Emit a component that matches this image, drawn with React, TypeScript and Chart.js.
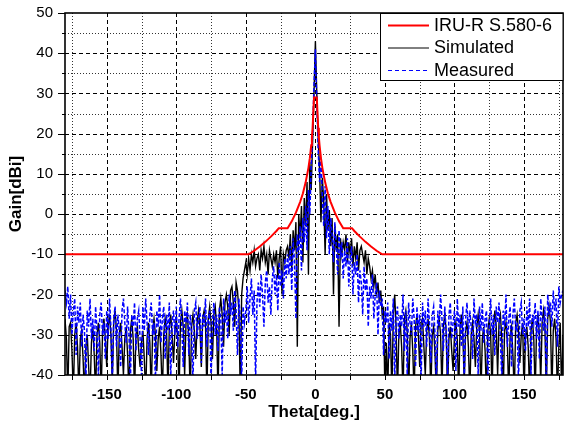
import React, { useEffect, useRef } from 'react';
import { Chart, registerables } from 'chart.js';

Chart.register(...registerables);

const FONT = '"Liberation Sans", Arial, Helvetica, sans-serif';

// Sample grid of the measured / simulated patterns (degrees)
const thetaStart = -180;
const thetaEnd = 178;
const thetaStep = 1;

// Simulated gain [dBi], one value per degree from -180 to 178
const simulated = [
  // -180 .. -51
  -26, -31, -45, -28, -27, -34, -45, -30, -27, -33,
  -45, -31, -29, -36, -45, -33, -30, -38, -45, -32,
  -28, -35, -45, -30, -27, -32, -45, -29, -26, -31,
  -38, -28, -25, -30, -42, -27, -24, -29, -45, -30,
  -27, -33, -40, -31, -28, -35, -45, -29, -26, -31,
  -45, -30, -28, -34, -38, -32, -29, -36, -45, -31,
  -27, -32, -45, -29, -26, -30, -39, -31, -28, -35,
  -45, -30, -26, -29, -44, -28, -25, -30, -37, -29,
  -26, -31, -45, -27, -24, -28, -40, -27, -25, -31,
  -45, -28, -25, -29, -36, -27, -24, -28, -38, -26,
  -24, -27, -45, -26, -23, -27, -36, -25, -23, -28,
  -45, -24, -21, -25, -33, -22, -20, -23, -30, -19,
  -18, -22, -28, -17, -19, -24, -45, -20, -16, -14,
  // -50 .. -21
  -12, -15, -11, -14, -10, -12, -9, -13, -11, -10,
  -14, -9, -11, -8, -12, -10, -15, -9, -11, -13,
  -10, -12, -9, -16, -11, -8, -20, -10, -12, -9,
  // -20 .. -1
  -8, -11, -5, -14, -4, -9, -2, -33, 0, -6,
  2, -12, 4, -3, 8, -15, 13, 6, 18, 30,
  // 0
  43,
  // 1 .. 20
  30, 19, 11, -2, 9, 3, -10, 5, -4, 1,
  -8, -1, -20, -3, -9, -5, -28, -6, -10, -7,
  // 21 .. 50
  -9, -5, -12, -7, -10, -6, -13, -8, -11, -7,
  -14, -9, -8, -10, -12, -9, -15, -11, -13, -16,
  -14, -18, -15, -20, -17, -22, -19, -25, -23, -45,
  // 51 .. 178
  -32, -45, -27, -30, -45, -25, -20, -28, -45, -30,
  -27, -33, -45, -26, -24, -29, -45, -31, -27, -34,
  -45, -28, -25, -30, -38, -27, -26, -33, -40, -29,
  -26, -31, -45, -30, -28, -35, -45, -29, -26, -30,
  -44, -28, -25, -29, -45, -31, -28, -34, -39, -30,
  -27, -31, -45, -28, -25, -30, -42, -29, -27, -33,
  -45, -30, -27, -31, -38, -28, -25, -29, -45, -31,
  -28, -34, -45, -29, -26, -30, -45, -28, -24, -28,
  -40, -27, -25, -31, -45, -29, -27, -32, -45, -30,
  -28, -35, -45, -27, -25, -29, -37, -30, -27, -45,
  -31, -28, -33, -45, -29, -26, -31, -45, -28, -25,
  -30, -42, -27, -24, -28, -45, -26, -23, -27, -45,
  -29, -26, -31, -45, -33, -27, -45, -30,
];

// Measured gain [dBi], one value per degree from -180 to 178
const measured = [
  // -180 .. -51
  -19, -22, -18, -26, -20, -30, -24, -21, -35, -23,
  -27, -22, -33, -25, -29, -42, -24, -28, -21, -31,
  -26, -34, -23, -29, -40, -25, -22, -30, -27, -36,
  -24, -31, -21, -28, -42, -26, -23, -33, -25, -29,
  -38, -24, -21, -27, -32, -23, -30, -42, -25, -28,
  -22, -34, -26, -24, -31, -40, -23, -29, -21, -27,
  -35, -25, -22, -30, -27, -42, -24, -28, -20, -32,
  -26, -23, -36, -25, -29, -22, -41, -27, -24, -30,
  -23, -33, -26, -21, -28, -38, -24, -27, -22, -35,
  -25, -29, -42, -24, -22, -31, -26, -23, -37, -25,
  -28, -21, -33, -26, -24, -42, -27, -22, -30, -25,
  -34, -23, -26, -40, -21, -27, -24, -31, -20, -25,
  -22, -29, -19, -24, -35, -21, -26, -42, -23, -27,
  // -50 .. -21
  -24, -18, -27, -21, -16, -25, -19, -42, -22, -17,
  -23, -15, -20, -28, -17, -14, -22, -18, -25, -16,
  -13, -20, -15, -24, -12, -18, -14, -21, -11, -16,
  // -20 .. -1
  -10, -15, -8, -19, -6, -12, -26, -5, -10, -3,
  -14, -1, -7, 2, -9, 6, 0, 12, 20, 32,
  // 0
  41,
  // 1 .. 20
  28, 16, 8, 14, 4, -3, 7, -6, 2, -10,
  -1, -5, -12, -2, -8, -15, -4, -11, -7, -16,
  // 21 .. 50
  -9, -13, -6, -18, -11, -8, -20, -12, -15, -10,
  -22, -14, -17, -25, -13, -19, -16, -28, -18, -21,
  -15, -26, -20, -17, -30, -19, -23, -21, -35, -24,
  // 51 .. 178
  -27, -22, -36, -24, -29, -21, -42, -26, -23, -31,
  -25, -28, -20, -34, -24, -40, -22, -27, -30, -21,
  -26, -38, -23, -29, -25, -42, -22, -28, -24, -33,
  -21, -27, -37, -25, -23, -30, -42, -24, -28, -20,
  -26, -34, -23, -29, -41, -25, -22, -31, -27, -24,
  -39, -21, -28, -25, -33, -23, -42, -26, -22, -30,
  -24, -28, -36, -21, -27, -25, -40, -23, -29, -22,
  -32, -26, -24, -42, -28, -21, -30, -25, -35, -23,
  -27, -22, -31, -41, -24, -28, -20, -33, -26, -23,
  -38, -25, -21, -29, -27, -42, -24, -22, -30, -26,
  -34, -23, -28, -21, -40, -25, -27, -22, -31, -24,
  -36, -21, -26, -29, -23, -42, -20, -25, -22, -28,
  -19, -24, -21, -33, -18, -22, -20, -19,
];

// ITU-R S.580-6 envelope
const maskTheta = [
  -180, -48, -44, -40, -36, -32, -28, -26.3, -20, -17, -14, -11, -9, -7, -5, -4, -3, -2.5, -2, -1,
  1, 2, 2.5, 3, 4, 5, 7, 9, 11, 14, 17, 20, 26.3, 28, 32, 36, 40, 44, 48, 178,
];
const maskGain = [
  -10, -10, -9.1, -8.05, -6.9, -5.6, -4.2, -3.5, -3.5, -1.8, 0.35, 3.0, 5.1, 7.9, 11.5, 13.9, 17.1, 19.1, 21.5, 29,
  29, 21.5, 19.1, 17.1, 13.9, 11.5, 7.9, 5.1, 3.0, 0.35, -1.8, -3.5, -3.5, -4.2, -5.6, -6.9, -8.05, -9.1, -10, -10,
];

const xTickValues = [-150, -100, -50, 0, 50, 100, 150];
const yTickValues = [-40, -30, -20, -10, 0, 10, 20, 30, 40, 50];
const xGridValues = [-175, -150, -125, -100, -75, -50, -25, 0, 25, 50, 75, 100, 125, 150, 175];
const yGridValues = [-35, -30, -25, -20, -15, -10, -5, 0, 5, 10, 15, 20, 25, 30, 35, 40, 45];
const yMinorTickValues = [-40, -35, -30, -25, -20, -15, -10, -5, 0, 5, 10, 15, 20, 25, 30, 35, 40, 45, 50];

const seriesNames = ['IRU-R S.580-6', 'Simulated', 'Measured'];
const seriesColors = ['#ff0000', '#000000', '#0000ff'];

const theta: number[] = [];
for (let t = thetaStart; t <= thetaEnd; t += thetaStep) theta.push(t);

const framePlugin = {
  id: 'frameAndGrid',
  beforeDatasetsDraw(chart: any) {
    const { ctx, chartArea: a, scales } = chart;
    const x = scales.x;
    const y = scales.y;
    ctx.save();
    ctx.lineWidth = 1;
    for (const v of yGridValues) {
      const py = Math.round(y.getPixelForValue(v)) + 0.5;
      const major = v % 10 === 0;
      ctx.setLineDash(major ? [4, 3] : [1, 2]);
      ctx.strokeStyle = major ? '#000' : '#333';
      ctx.beginPath();
      ctx.moveTo(a.left, py);
      ctx.lineTo(a.right, py);
      ctx.stroke();
    }
    for (const v of xGridValues) {
      const px = Math.round(x.getPixelForValue(v)) + 0.5;
      const major = v % 50 === 0;
      ctx.setLineDash(major ? [4, 3] : [1, 2]);
      ctx.strokeStyle = major ? '#000' : '#333';
      ctx.beginPath();
      ctx.moveTo(px, a.top);
      ctx.lineTo(px, a.bottom);
      ctx.stroke();
    }
    ctx.restore();
  },
  afterDraw(chart: any) {
    const { ctx, chartArea: a, scales } = chart;
    const x = scales.x;
    const y = scales.y;
    ctx.save();
    ctx.setLineDash([]);
    ctx.strokeStyle = '#000';
    ctx.lineWidth = 1;
    // tick marks
    for (const v of yMinorTickValues) {
      const py = Math.round(y.getPixelForValue(v)) + 0.5;
      const len = v % 10 === 0 ? 7 : 3;
      ctx.beginPath();
      ctx.moveTo(a.left - len, py);
      ctx.lineTo(a.left, py);
      ctx.stroke();
    }
    for (const v of xGridValues) {
      const px = Math.round(x.getPixelForValue(v)) + 0.5;
      ctx.beginPath();
      ctx.moveTo(px, a.bottom);
      ctx.lineTo(px, a.bottom + 5);
      ctx.stroke();
    }
    // frame
    ctx.lineWidth = 1.6;
    ctx.strokeRect(a.left, a.top, a.right - a.left, a.bottom - a.top);

    // legend
    const lx = 380;
    const ly = a.top;
    const lw = a.right - lx;
    const lh = 67;
    ctx.fillStyle = '#fff';
    ctx.fillRect(lx, ly, lw, lh);
    ctx.lineWidth = 1;
    ctx.strokeRect(lx + 0.5, ly + 0.5, lw - 0.5, lh);
    const rows = [12, 34.5, 57];
    ctx.font = `18px ${FONT}`;
    ctx.textBaseline = 'middle';
    ctx.textAlign = 'left';
    seriesNames.forEach((name, i) => {
      const ry = ly + rows[i];
      ctx.strokeStyle = seriesColors[i];
      ctx.lineWidth = i === 0 ? 2 : 1;
      ctx.setLineDash(i === 2 ? [4, 3] : []);
      ctx.beginPath();
      ctx.moveTo(lx + 8, ry + 0.5);
      ctx.lineTo(lx + 49, ry + 0.5);
      ctx.stroke();
      ctx.setLineDash([]);
      ctx.fillStyle = '#000';
      ctx.fillText(name, lx + 54, ry + 1);
    });
    ctx.restore();
  },
};

export default function App() {
  const canvasRef = useRef<HTMLCanvasElement | null>(null);

  useEffect(() => {
    document.body.style.margin = '0';
    const canvas = canvasRef.current;
    if (!canvas) return;
    const chart = new Chart(canvas, {
      type: 'line',
      data: {
        datasets: [
          {
            label: seriesNames[0],
            data: maskTheta.map((t, i) => ({ x: t, y: maskGain[i] })),
            borderColor: seriesColors[0],
            borderWidth: 2,
            pointRadius: 0,
            tension: 0,
          },
          {
            label: seriesNames[2],
            data: theta.map((t, i) => ({ x: t, y: measured[i] })),
            borderColor: seriesColors[2],
            borderWidth: 1.5,
            borderDash: [4, 2],
            pointRadius: 0,
            tension: 0,
          },
          {
            label: seriesNames[1],
            data: theta.map((t, i) => ({ x: t, y: simulated[i] })),
            borderColor: seriesColors[1],
            borderWidth: 1.4,
            pointRadius: 0,
            tension: 0,
          },
        ],
      },
      options: {
        animation: false,
        responsive: false,
        devicePixelRatio: 1,
        layout: { padding: { top: 13, right: 2, left: 0, bottom: 0 } },
        plugins: {
          legend: { display: false },
          tooltip: { enabled: false },
        },
        scales: {
          x: {
            type: 'linear',
            min: thetaStart,
            max: thetaEnd,
            afterFit: (s: any) => {
              s.height = 52;
              s.paddingLeft = 0;
              s.paddingRight = 0;
            },
            afterBuildTicks: (s: any) => {
              s.ticks = xTickValues.map((v) => ({ value: v }));
            },
            grid: { display: false, drawTicks: false },
            border: { display: false },
            ticks: {
              autoSkip: false,
              maxRotation: 0,
              padding: 11,
              color: '#000',
              font: { family: FONT, size: 15, weight: 'bold' },
              callback: (v: any) => String(v),
            },
            title: {
              display: true,
              text: 'Theta[deg.]',
              color: '#000',
              font: { family: FONT, size: 17, weight: 'bold' },
              padding: { top: 0, bottom: 4 },
            },
          },
          y: {
            type: 'linear',
            min: -40,
            max: 50,
            afterFit: (s: any) => {
              s.width = 65;
              s.paddingTop = 0;
              s.paddingBottom = 0;
            },
            afterBuildTicks: (s: any) => {
              s.ticks = yTickValues.map((v) => ({ value: v }));
            },
            grid: { display: false, drawTicks: false },
            border: { display: false },
            ticks: {
              autoSkip: false,
              padding: 12,
              color: '#000',
              font: { family: FONT, size: 15 },
              callback: (v: any) => String(v),
            },
            title: {
              display: true,
              text: 'Gain[dBi]',
              color: '#000',
              font: { family: FONT, size: 17, weight: 'bold' },
              padding: { top: 6, bottom: 0 },
            },
          },
        },
      } as any,
      plugins: [framePlugin],
    });
    return () => chart.destroy();
  }, []);

  return (
    <div style={{ width: 565, height: 427 }}>
      <canvas ref={canvasRef} width={565} height={427} />
    </div>
  );
}
